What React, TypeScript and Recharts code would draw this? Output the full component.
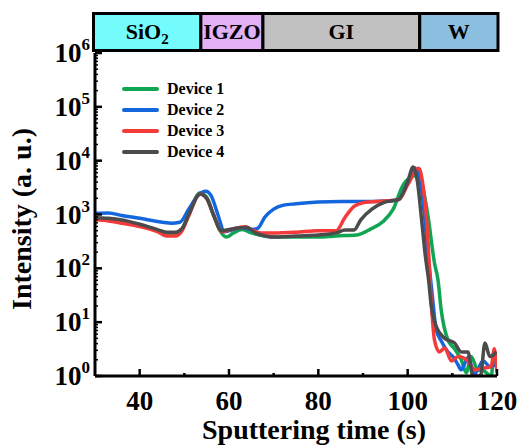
import React from 'react';
import { LineChart, Line, XAxis, YAxis } from 'recharts';

// sputtering time (s) and intensity (a. u.)
const dev1Time = [30, 33, 36, 40, 44, 46, 48, 49.5, 51, 53.5, 55, 56.5, 58, 59.4, 61, 63, 65, 68, 72, 76, 80, 84, 88.5, 91.5, 94.5, 96.7, 99, 101.7, 103, 104.5, 106, 106.8, 107.5, 109, 110.5, 112, 113.1, 114.2, 115.7, 117, 118.7, 119.4, 120];
const dev1Int = [830, 795, 720, 630, 500, 435, 445, 540, 1000, 2500, 2100, 1000, 500, 380, 455, 525, 455, 400, 380, 380, 380, 400, 415, 525, 740, 1230, 3550, 5250, 4000, 1000, 126, 60, 17, 4.7, 3.2, 2, 1.15, 2.3, 1.3, 1.25, 1, 2.8, 1.25];

const dev2Time = [30, 33, 36, 40, 44, 47, 49, 51, 53, 54.8, 56, 57.5, 59, 61, 63, 65, 66.5, 68, 70, 72, 75, 80, 85, 90, 95, 98, 100, 101.5, 102.5, 103.5, 104.5, 105.5, 106.4, 107.5, 109, 110.3, 111.3, 112, 113.5, 115, 116.9, 118.4, 120];
const dev2Int = [1050, 1070, 955, 850, 740, 690, 720, 1260, 2240, 2700, 2240, 1000, 480, 525, 575, 525, 560, 890, 1260, 1480, 1580, 1700, 1740, 1740, 1780, 1900, 4000, 7400, 5600, 1580, 200, 32, 7.2, 4.5, 2.8, 2.2, 1.6, 1.3, 2.2, 1.1, 1.9, 1.5, 1.7];

const dev3Time = [30, 33, 36, 40, 44, 46, 48, 49.5, 51, 53.5, 55, 56.5, 58.5, 60.5, 63.6, 65.5, 67, 70, 75, 80, 84, 86, 88, 90, 95, 98, 100, 102.5, 103.5, 104.5, 105.2, 106, 107.1, 108.3, 109.8, 111.3, 113.5, 115, 117, 118.7, 119.4, 120];
const dev3Int = [795, 760, 690, 600, 480, 400, 400, 500, 955, 2400, 2000, 1000, 480, 525, 590, 500, 455, 455, 470, 500, 500, 890, 1410, 1660, 1780, 1900, 3550, 7200, 3160, 400, 30, 4.7, 2.8, 3.3, 1.9, 2.3, 1.9, 1.3, 1.4, 1.5, 3.2, 1.15];

const dev4Time = [30, 33, 36, 40, 44, 46, 48, 49.5, 51, 53.5, 55, 56.5, 58.3, 60, 62, 64, 66, 68, 70, 75, 80, 84, 86, 88, 89.5, 92, 94.6, 98, 100, 101.2, 102.2, 103, 104, 104.7, 105.2, 106.4, 108.3, 110.5, 112, 113.5, 114.6, 116.3, 117.3, 118.4, 119.9];
const dev4Int = [870, 850, 795, 660, 525, 470, 470, 550, 1000, 2400, 2000, 1000, 500, 525, 560, 575, 450, 400, 380, 400, 415, 455, 515, 515, 795, 1260, 1660, 1900, 4000, 7600, 4000, 1000, 160, 60, 23, 8.3, 5, 4.1, 2.8, 2.8, 1, 1, 4.1, 2.3, 2.8];

const seriesNames = ['Device 1', 'Device 2', 'Device 3', 'Device 4'];
const seriesColors = ['#0fa552', '#1466dc', '#f53a3a', '#4b4b4b'];

const xTicks = [40, 50, 60, 70, 80, 90, 100, 110, 120];
const yTicks: number[] = [];
for (let d = 0; d < 6; d++) for (let m = 1; m < 10; m++) yTicks.push(m * Math.pow(10, d));
yTicks.push(1e6);

// layers in the header bar (s)
const layerNames = ['SiO', 'IGZO', 'GI', 'W'];
const layerSubs = ['2', '', '', ''];
const layerStart = [30, 53.7, 67.6, 102.7];
const layerEnd = [53.7, 67.6, 102.7, 120];
const layerColors = ['#74fcfc', '#e2b0f4', '#c0c0c0', '#8cbedf'];

const W = 523;
const H = 448;
const PLOT_LEFT = 95;
const PLOT_RIGHT = 497;
const PLOT_TOP = 53;
const PLOT_BOTTOM = 376;
const FONT = "'Liberation Serif', 'Times New Roman', serif";

const toPx = (t: number) => PLOT_LEFT + ((t - 30) / 90) * (PLOT_RIGHT - PLOT_LEFT);

const seriesData = [
  dev1Time.map((t, i) => ({ t, v: dev1Int[i] })),
  dev2Time.map((t, i) => ({ t, v: dev2Int[i] })),
  dev3Time.map((t, i) => ({ t, v: dev3Int[i] })),
  dev4Time.map((t, i) => ({ t, v: dev4Int[i] })),
];

const XTick = ({ x, y, payload }: any) => {
  const major = payload.value % 20 === 0;
  return (
    <g>
      <line x1={x} x2={x} y1={y} y2={y - (major ? 7 : 3)} stroke="#000" strokeWidth={2.5} />
      {major && (
        <text x={x} y={y + 34} textAnchor="middle" fontFamily={FONT} fontWeight="bold" fontSize={27} fill="#000">
          {payload.value}
        </text>
      )}
    </g>
  );
};

const YTick = ({ x, y, payload }: any) => {
  const v = payload.value;
  const exp = Math.round(Math.log10(v));
  const major = Math.abs(v - Math.pow(10, exp)) < 1e-6 * v;
  return (
    <g>
      <line x1={x} x2={x + (major ? 7 : 3)} y1={y} y2={y} stroke="#000" strokeWidth={major ? 2.5 : 1.5} />
      {major && (
        <text x={x - 5} y={y + 9} textAnchor="end" fontFamily={FONT} fontWeight="bold" fontSize={27} fill="#000">
          <tspan>10</tspan>
          <tspan dy={-12} fontSize={17}>{exp}</tspan>
        </text>
      )}
    </g>
  );
};

const XLabel = ({ viewBox }: any) => (
  <text x={viewBox.x + viewBox.width / 2 + 18} y={439} textAnchor="middle" fontFamily={FONT} fontWeight="bold" fontSize={28} fill="#000">
    Sputtering time (s)
  </text>
);

const YLabel = () => (
  <text x={0} y={0} transform="translate(31, 219) rotate(-90)" textAnchor="middle" fontFamily={FONT} fontWeight="bold" fontSize={28} fill="#000">
    Intensity (a. u.)
  </text>
);

const Header = () => (
  <svg width={W} height={60} style={{ position: 'absolute', left: 0, top: 0 }}>
    {layerNames.map((name, i) => {
      const x0 = toPx(layerStart[i]) - (i === 0 ? 1.5 : 0);
      const x1 = toPx(layerEnd[i]) + (i === 3 ? 1 : 0);
      return (
        <g key={name}>
          <rect x={x0} y={13.5} width={x1 - x0} height={37} fill={layerColors[i]} stroke="#000" strokeWidth={3} />
          <text x={(x0 + x1) / 2} y={39} textAnchor="middle" fontFamily={FONT} fontWeight="bold" fontSize={22} fill="#000">
            {name}
            {layerSubs[i] && <tspan dy={5} fontSize={15}>{layerSubs[i]}</tspan>}
          </text>
        </g>
      );
    })}
  </svg>
);

const LegendBox = () => (
  <div style={{ position: 'absolute', left: 122, top: 78, fontFamily: FONT, fontWeight: 'bold', fontSize: 16 }}>
    {seriesNames.map((n, i) => (
      <div key={n} style={{ display: 'flex', alignItems: 'center', height: 21 }}>
        <div style={{ width: 37, height: 4, borderRadius: 2, background: seriesColors[i], marginRight: 8 }} />
        <span>{n}</span>
      </div>
    ))}
  </div>
);

export default function App() {
  return (
    <div style={{ position: 'absolute', left: 0, top: 0, width: W, height: H, background: '#fff' }}>
      <LineChart width={W} height={H} margin={{ top: PLOT_TOP, right: W - PLOT_RIGHT, bottom: H - PLOT_BOTTOM - 30, left: PLOT_LEFT - 60 }}>
        <XAxis
          type="number"
          dataKey="t"
          domain={[30, 120]}
          ticks={xTicks}
          interval={0}
          allowDataOverflow
          tick={<XTick />}
          tickLine={false}
          tickSize={0}
          tickMargin={0}
          height={30}
          axisLine={{ stroke: '#000', strokeWidth: 3 }}
          label={<XLabel />}
        />
        <XAxis xAxisId="top" orientation="top" type="number" domain={[30, 120]} tick={false} tickLine={false} height={0} axisLine={{ stroke: '#000', strokeWidth: 3 }} />
        <YAxis
          type="number"
          scale="log"
          domain={[1, 1e6]}
          ticks={yTicks}
          interval={0}
          allowDataOverflow
          tick={<YTick />}
          tickLine={false}
          tickSize={0}
          tickMargin={0}
          width={60}
          axisLine={{ stroke: '#000', strokeWidth: 3 }}
          label={<YLabel />}
        />
        <YAxis yAxisId="right" orientation="right" type="number" domain={[0, 1]} tick={false} tickLine={false} width={0} axisLine={{ stroke: '#000', strokeWidth: 3 }} />
        {seriesData.map((d, i) => (
          <Line
            key={seriesNames[i]}
            data={d}
            dataKey="v"
            name={seriesNames[i]}
            type="monotone"
            stroke={seriesColors[i]}
            strokeWidth={3.5}
            dot={false}
            isAnimationActive={false}
          />
        ))}
      </LineChart>
      <Header />
      <LegendBox />
    </div>
  );
}
